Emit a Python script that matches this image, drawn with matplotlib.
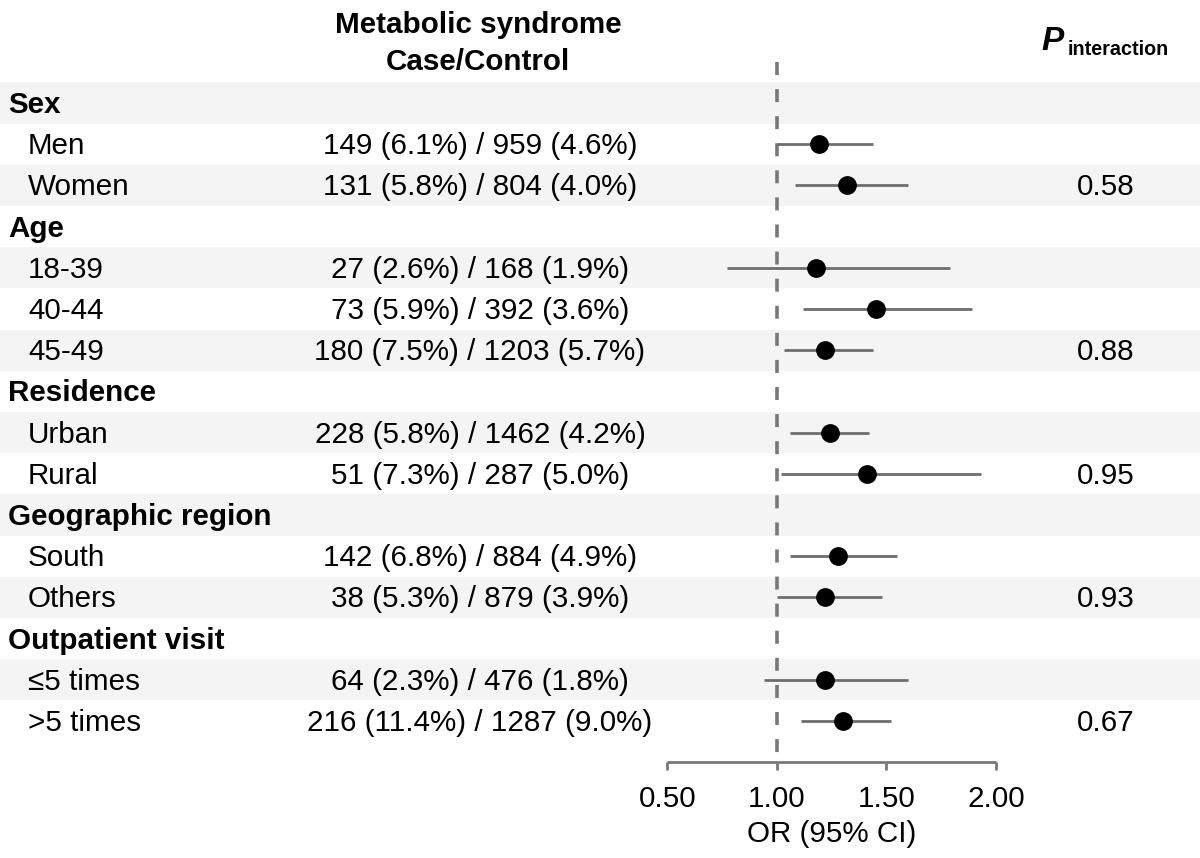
import numpy as np
import matplotlib as mpl
import matplotlib.pyplot as plt

mpl.rcParams['font.family'] = ['Liberation Sans', 'DejaVu Sans']

# Rows of the forest plot, top to bottom
row_labels = ["Sex", "Men", "Women",
              "Age", "18-39", "40-44", "45-49",
              "Residence", "Urban", "Rural",
              "Geographic region", "South", "Others",
              "Outpatient visit", "\u22645 times", ">5 times"]
is_group = [True, False, False,
            True, False, False, False,
            True, False, False,
            True, False, False,
            True, False, False]
case_control = ["", "149 (6.1%) / 959 (4.6%)", "131 (5.8%) / 804 (4.0%)",
                "", "27 (2.6%) / 168 (1.9%)", "73 (5.9%) / 392 (3.6%)",
                "180 (7.5%) / 1203 (5.7%)",
                "", "228 (5.8%) / 1462 (4.2%)", "51 (7.3%) / 287 (5.0%)",
                "", "142 (6.8%) / 884 (4.9%)", "38 (5.3%) / 879 (3.9%)",
                "", "64 (2.3%) / 476 (1.8%)", "216 (11.4%) / 1287 (9.0%)"]
nan = np.nan
or_est = [nan, 1.19, 1.32, nan, 1.18, 1.45, 1.22, nan, 1.24, 1.41,
          nan, 1.28, 1.22, nan, 1.22, 1.30]
or_lo = [nan, 1.00, 1.08, nan, 0.77, 1.12, 1.03, nan, 1.06, 1.02,
         nan, 1.06, 1.00, nan, 0.94, 1.11]
or_hi = [nan, 1.44, 1.60, nan, 1.79, 1.89, 1.44, nan, 1.42, 1.93,
         nan, 1.55, 1.48, nan, 1.60, 1.52]
p_interaction = ["", "", "0.58", "", "", "", "0.88", "", "", "0.95",
                 "", "", "0.93", "", "", "0.67"]
xticks = [0.50, 1.00, 1.50, 2.00]

W, H = 1200, 858
fig = plt.figure(figsize=(W / 100, H / 100), dpi=100)
ax = fig.add_axes([0, 0, 1, 1])
ax.axis('off')

# OR scale: 1.00 at pixel 777, 219 px per unit
ax.set_xlim(1 - 777 / 219, 1 + (W - 777) / 219)
row_h = 41.2
ax.set_ylim((H - 103) / row_h, -103 / row_h)

tr = ax.get_yaxis_transform()  # x in axes fraction, y in data
rows = np.arange(len(row_labels))
base = 10 / row_h  # baseline offset below row centre

# alternating shading
for i in rows[::2]:
    ax.axhspan(i - 0.5, i + 0.5, color='#f4f4f4', zorder=0, lw=0)

fs = 21.3
for i in rows:
    if is_group[i]:
        ax.text(8 / W, i + base, row_labels[i], transform=tr, fontsize=fs,
                fontweight='bold', va='baseline', ha='left')
    else:
        ax.text(28 / W, i + base, row_labels[i], transform=tr, fontsize=fs,
                va='baseline', ha='left')
    if case_control[i]:
        ax.text(480 / W, i + base, case_control[i], transform=tr, fontsize=fs,
                va='baseline', ha='center')
    if p_interaction[i]:
        ax.text(1106 / W, i + base, p_interaction[i], transform=tr,
                fontsize=fs, va='baseline', ha='center')

# headers
ax.text(478 / W, (33 - 103) / row_h, "Metabolic syndrome", transform=tr,
        fontsize=fs, fontweight='bold', ha='center', va='baseline')
ax.text(478 / W, (70 - 103) / row_h, "Case/Control", transform=tr,
        fontsize=fs, fontweight='bold', ha='center', va='baseline')
ax.text(1041 / W, (50 - 103) / row_h, "P", transform=tr, fontsize=24,
        fontweight='bold', fontstyle='italic', ha='left', va='baseline')
ax.text(1068 / W, (55 - 103) / row_h, "interaction", transform=tr,
        fontsize=14.2, fontweight='bold', ha='left', va='baseline')

gray = '#787878'
# reference line at OR = 1
ax.vlines(1.0, -1.0, 16.0, colors=gray, linestyles=(0, (3.6, 3.9)),
          lw=2.6, zorder=2)

# CIs and point estimates
ax.hlines(rows, or_lo, or_hi, colors='#6e6e6e', lw=2.0, zorder=3)
ax.plot(or_est, rows, 'o', color='black', ms=12.5, zorder=4)

# x axis drawn by hand
ax_y = 16.0
ax.hlines(ax_y, xticks[0], xticks[-1], colors=gray, lw=2.0, zorder=2)
ax.vlines(xticks, ax_y, ax_y + 0.2, colors=gray, lw=2.0, zorder=2)
for t in xticks:
    ax.text(t, (807 - 103) / row_h, f"{t:.2f}", fontsize=fs, ha='center',
            va='baseline')
ax.text(np.mean([xticks[0], xticks[-1]]), (842 - 103) / row_h,
        "OR (95% CI)", fontsize=fs, ha='center', va='baseline')

fig.savefig('out.png', dpi=100)
